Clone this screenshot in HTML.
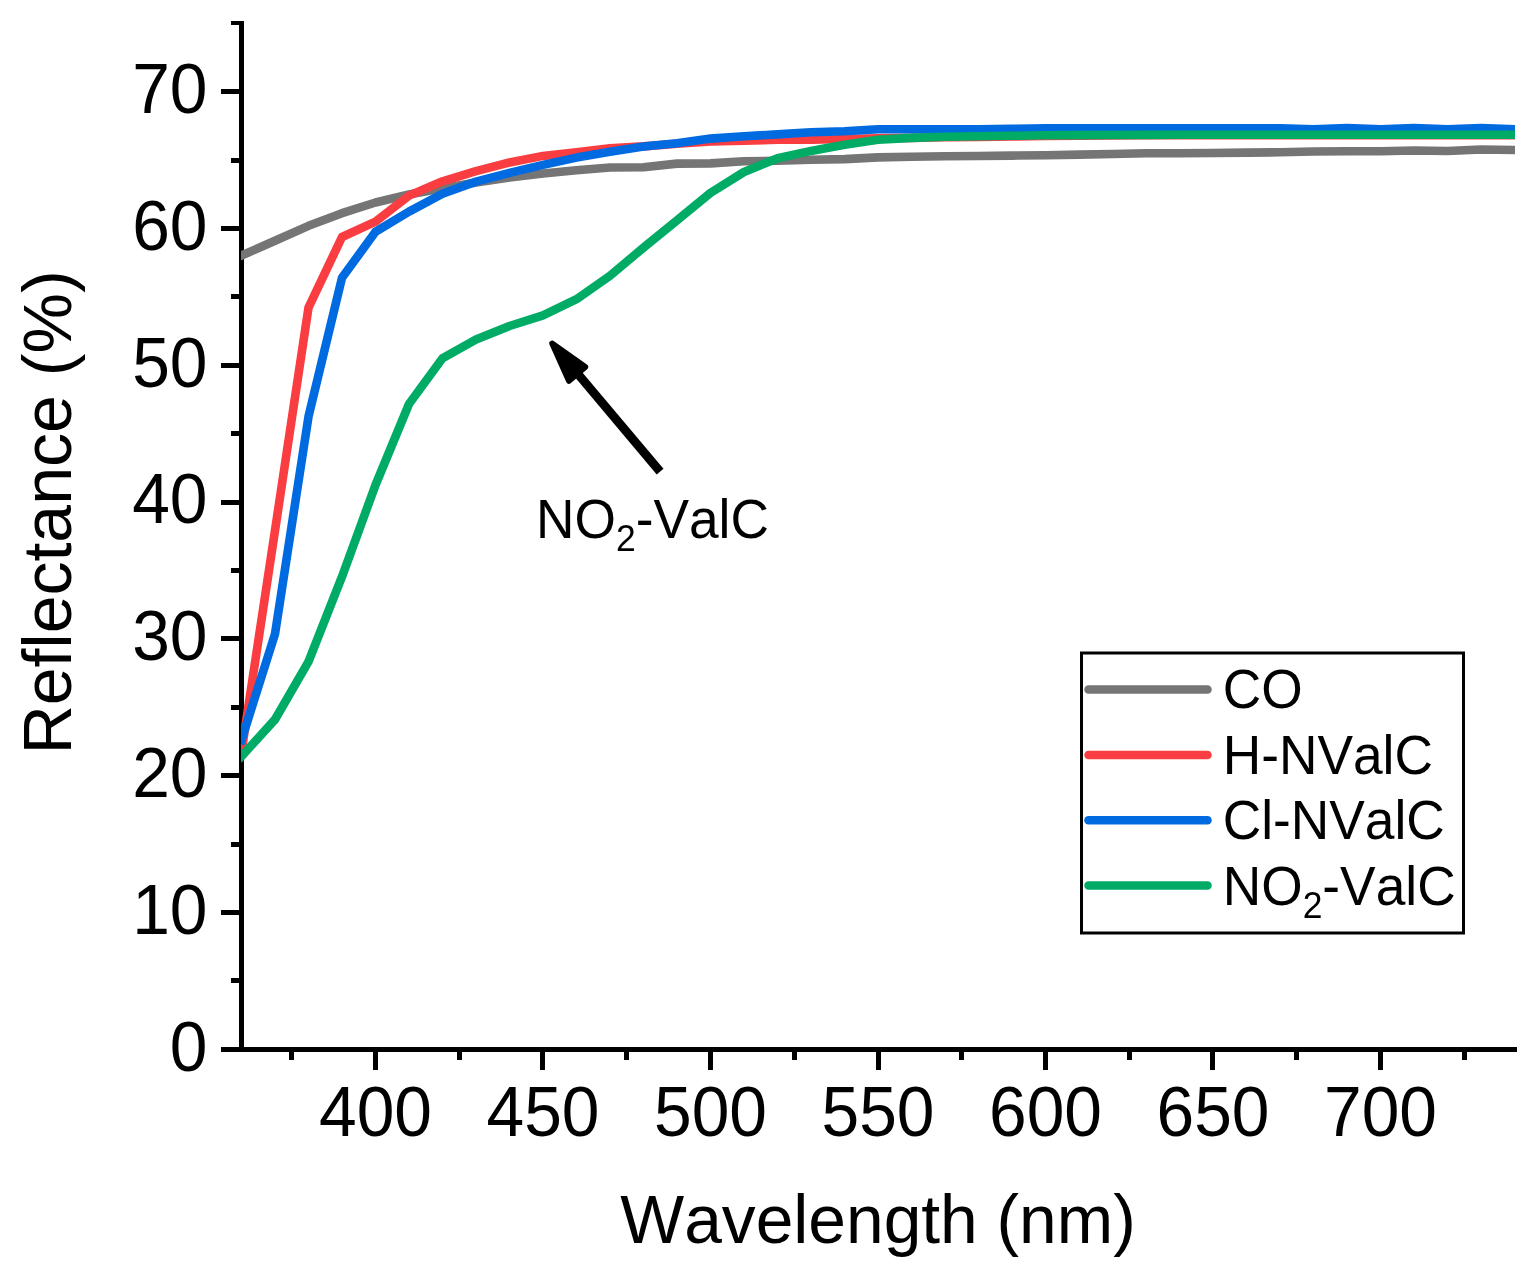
<!DOCTYPE html>
<html><head><meta charset="utf-8"><title>Reflectance</title>
<style>html,body{margin:0;padding:0;background:#fff}svg{display:block}text{font-family:"Liberation Sans",Arial,sans-serif;fill:#000;font-kerning:none}</style></head>
<body>
<svg width="1539" height="1280" viewBox="0 0 1539 1280">
<rect width="1539" height="1280" fill="#fff"/>
<g fill="#000" shape-rendering="crispEdges">
<rect x="239" y="21" width="5" height="1031"/>
<rect x="221" y="1047" width="1296" height="5"/>
<rect x="231" y="978" width="10" height="5"/>
<rect x="221" y="910" width="20" height="5"/>
<rect x="231" y="842" width="10" height="5"/>
<rect x="221" y="773" width="20" height="5"/>
<rect x="231" y="705" width="10" height="5"/>
<rect x="221" y="636" width="20" height="5"/>
<rect x="231" y="568" width="10" height="5"/>
<rect x="221" y="500" width="20" height="5"/>
<rect x="231" y="431" width="10" height="5"/>
<rect x="221" y="363" width="20" height="5"/>
<rect x="231" y="294" width="10" height="5"/>
<rect x="221" y="226" width="20" height="5"/>
<rect x="231" y="158" width="10" height="5"/>
<rect x="221" y="89" width="20" height="5"/>
<rect x="231" y="21" width="10" height="4"/>
<rect x="289" y="1050" width="5" height="10"/>
<rect x="373" y="1050" width="5" height="20"/>
<rect x="457" y="1050" width="5" height="10"/>
<rect x="540" y="1050" width="5" height="20"/>
<rect x="624" y="1050" width="5" height="10"/>
<rect x="708" y="1050" width="5" height="20"/>
<rect x="792" y="1050" width="5" height="10"/>
<rect x="876" y="1050" width="5" height="20"/>
<rect x="959" y="1050" width="5" height="10"/>
<rect x="1043" y="1050" width="5" height="20"/>
<rect x="1127" y="1050" width="5" height="10"/>
<rect x="1210" y="1050" width="5" height="20"/>
<rect x="1294" y="1050" width="5" height="10"/>
<rect x="1378" y="1050" width="5" height="20"/>
<rect x="1462" y="1050" width="5" height="10"/>
</g>
<defs><clipPath id="pc"><rect x="241" y="0" width="1274" height="1047"/></clipPath></defs>
<g clip-path="url(#pc)" fill="none" stroke-width="8.6" stroke-linejoin="round" stroke-linecap="square">
<polyline stroke="#757575" points="241.5,255.5 275.0,240.8 308.5,225.8 342.0,213.2 375.5,202.5 409.0,194.5 442.5,188.3 476.0,182.6 509.5,177.4 543.0,173.5 576.5,170.3 610.0,167.5 643.5,167.2 677.0,163.6 710.5,163.4 744.0,161.2 777.5,160.8 811.0,159.7 844.5,159.1 878.0,157.4 911.5,156.8 945.0,156.2 978.5,156.0 1012.0,155.6 1045.5,155.2 1079.0,154.6 1112.5,154.0 1146.0,153.3 1179.5,153.2 1213.0,153.0 1246.5,152.6 1280.0,152.3 1313.5,151.5 1347.0,151.2 1380.5,151.2 1414.0,150.5 1447.5,151.0 1481.0,149.5 1514.5,150.0"/>
<polyline stroke="#f93d40" points="241.5,752.0 275.0,530.5 308.5,307.7 342.0,237.0 375.5,221.6 409.0,195.6 442.5,181.3 476.0,171.2 509.5,162.5 543.0,155.9 576.5,152.2 610.0,148.3 643.5,146.4 677.0,143.7 710.5,141.5 744.0,140.7 777.5,139.7 811.0,139.6 844.5,139.0 878.0,138.3 911.5,137.9 945.0,137.3 978.5,136.9 1012.0,136.5 1045.5,136.0 1079.0,135.6 1112.5,135.4 1146.0,135.3 1179.5,135.3 1213.0,135.3 1246.5,135.3 1280.0,135.3 1313.5,135.3 1347.0,135.3 1380.5,135.3 1414.0,135.3 1447.5,135.3 1481.0,135.3 1514.5,135.3"/>
<polyline stroke="#006ae0" points="241.5,740.0 275.0,634.0 308.5,416.6 342.0,277.8 375.5,231.8 409.0,211.6 442.5,193.7 476.0,181.6 509.5,172.9 543.0,164.9 576.5,157.6 610.0,151.8 643.5,146.5 677.0,143.3 710.5,138.6 744.0,136.2 777.5,134.4 811.0,132.3 844.5,131.2 878.0,129.3 911.5,129.3 945.0,129.2 978.5,129.2 1012.0,128.9 1045.5,128.2 1079.0,128.2 1112.5,128.2 1146.0,128.2 1179.5,128.2 1213.0,128.2 1246.5,128.2 1280.0,128.2 1313.5,129.3 1347.0,128.1 1380.5,129.3 1414.0,128.1 1447.5,129.4 1481.0,128.1 1514.5,129.3"/>
<polyline stroke="#00ab66" points="241.5,756.4 275.0,719.5 308.5,661.6 342.0,576.7 375.5,485.0 409.0,404.0 442.5,358.2 476.0,339.6 509.5,326.0 543.0,315.3 576.5,299.2 610.0,275.8 643.5,247.6 677.0,220.4 710.5,192.9 744.0,172.0 777.5,158.2 811.0,150.9 844.5,144.8 878.0,139.8 911.5,137.9 945.0,136.8 978.5,136.2 1012.0,135.8 1045.5,135.3 1079.0,135.1 1112.5,135.0 1146.0,134.9 1179.5,134.8 1213.0,134.8 1246.5,134.7 1280.0,134.7 1313.5,134.7 1347.0,134.7 1380.5,134.7 1414.0,134.7 1447.5,134.7 1481.0,134.7 1514.5,134.7"/>
</g>
<g font-size="67.7" text-anchor="end">
<text transform="translate(207.5,1070.5) scale(1,1.04)">0</text>
<text transform="translate(207.5,933.7) scale(1,1.04)">10</text>
<text transform="translate(207.5,796.9) scale(1,1.04)">20</text>
<text transform="translate(207.5,660.1) scale(1,1.04)">30</text>
<text transform="translate(207.5,523.3) scale(1,1.04)">40</text>
<text transform="translate(207.5,386.5) scale(1,1.04)">50</text>
<text transform="translate(207.5,249.7) scale(1,1.04)">60</text>
<text transform="translate(207.5,112.9) scale(1,1.04)">70</text>
</g>
<g font-size="67.7" text-anchor="middle">
<text transform="translate(375.5,1135.8) scale(1,1.04)">400</text>
<text transform="translate(543.0,1135.8) scale(1,1.04)">450</text>
<text transform="translate(710.5,1135.8) scale(1,1.04)">500</text>
<text transform="translate(878.0,1135.8) scale(1,1.04)">550</text>
<text transform="translate(1045.5,1135.8) scale(1,1.04)">600</text>
<text transform="translate(1213.0,1135.8) scale(1,1.04)">650</text>
<text transform="translate(1380.5,1135.8) scale(1,1.04)">700</text>
</g>
<text font-size="67.7" text-anchor="middle" transform="translate(878,1243.2) scale(1,1.02)">Wavelength (nm)</text>
<text font-size="67.7" text-anchor="middle" transform="translate(71,512.4) rotate(-90) scale(1.005,1.02)">Reflectance (%)</text>
<g stroke="#000" fill="#000" stroke-linejoin="round">
<line x1="660.1" y1="471.7" x2="575" y2="370.5" stroke-width="8.9"/>
<polygon points="552.3,343.6 585.2,367 569,380.8" stroke-width="6"/>
</g>
<text font-size="53.3" transform="translate(536,537.8) scale(1,1.04)">NO<tspan font-size="35.5" dy="13">2</tspan><tspan dy="-13">-ValC</tspan></text>
<rect x="1081.5" y="653" width="382" height="280" fill="#fff" stroke="#000" stroke-width="3"/>
<g stroke-width="8.5" stroke-linecap="round">
<line x1="1088.5" y1="689.5" x2="1207.5" y2="689.5" stroke="#757575"/>
<line x1="1088.5" y1="755" x2="1207.5" y2="755" stroke="#f93d40"/>
<line x1="1088.5" y1="820.2" x2="1207.5" y2="820.2" stroke="#006ae0"/>
<line x1="1088.5" y1="885.4" x2="1207.5" y2="885.4" stroke="#00ab66"/>
</g>
<g font-size="53.3">
<text transform="translate(1222.7,708.2) scale(1,1.04)">CO</text>
<text transform="translate(1222.7,773.8) scale(1,1.04)">H-NValC</text>
<text transform="translate(1222.7,839.1) scale(1,1.04)">Cl-NValC</text>
<text transform="translate(1222.7,904.6) scale(1,1.04)">NO<tspan font-size="35.5" dy="13">2</tspan><tspan dy="-13">-ValC</tspan></text>
</g>
</svg>
</body></html>
